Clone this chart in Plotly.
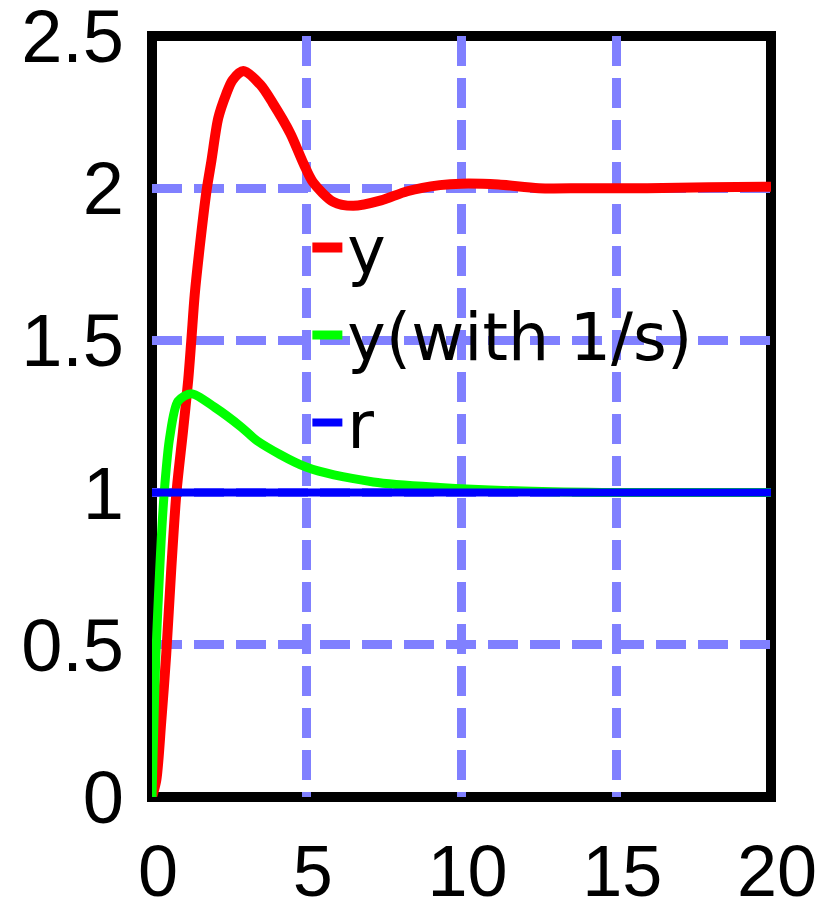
import plotly.graph_objects as go

# y (red)
t_y = [0, 0.14, 0.30, 0.46, 0.62, 0.79, 1.0, 1.17, 1.27, 1.38, 1.54, 1.76, 1.92,
       2.14, 2.40, 2.60, 2.95, 3.5, 3.9, 4.47, 4.9, 5.2, 5.86, 6.5, 7.4, 8.25, 9.3,
       10.0, 11.2, 12.5, 14, 16, 18, 20]
v_y = [0, 0.056, 0.25, 0.47, 0.745, 1.0, 1.2, 1.37, 1.50, 1.65, 1.805, 1.99, 2.09,
       2.23, 2.31, 2.355, 2.385, 2.34, 2.28, 2.18, 2.08, 2.02, 1.955, 1.942, 1.96, 1.99, 2.01,
       2.015, 2.012, 2.0, 2.0, 2.0, 2.003, 2.005]

# y(with 1/s) (green)
t_g = [0, 0.05, 0.12, 0.19, 0.30, 0.41, 0.57, 0.84, 1.27, 2.03, 2.89, 3.4, 5.0, 7.15, 9.3, 12, 15, 20]
v_g = [0, 0.2, 0.45, 0.62, 0.85, 1.02, 1.18, 1.30, 1.325, 1.28, 1.215, 1.17, 1.083, 1.035, 1.017, 1.005, 1.0, 1.0]

# r (blue)
t_r = [0, 20]
v_r = [1, 1]

x_ticks = [0, 5, 10, 15, 20]
y_ticks = [0, 0.5, 1, 1.5, 2, 2.5]
y_ticktext = ["0", "0.5", "1", "1.5", "2", "2.5"]

fig = go.Figure()
fig.add_trace(go.Scatter(x=t_y, y=v_y, mode="lines", name="y",
                         line=dict(color="#ff0000", width=10, shape="spline", smoothing=0.8)))
fig.add_trace(go.Scatter(x=t_g, y=v_g, mode="lines", name="y(with 1/s)",
                         line=dict(color="#00ff00", width=9, shape="spline", smoothing=0.8)))
fig.add_trace(go.Scatter(x=t_r, y=v_r, mode="lines", name="r",
                         line=dict(color="#0000ff", width=8)))

# page body has an 8px default margin, so the figure is 8px smaller than the window
fig.update_layout(
    width=819, height=904,
    margin=dict(l=144, r=56, t=28, b=115),
    paper_bgcolor="white", plot_bgcolor="white",
    showlegend=True,
    legend=dict(x=0.251, y=0.786, xanchor="left", yanchor="top",
                bgcolor="rgba(255,255,255,0)", borderwidth=0,
                font=dict(family="DejaVu Sans", size=65, color="black"),
                itemwidth=30),
    xaxis=dict(range=[0, 20], tickvals=x_ticks, showgrid=True, gridcolor="#8080ff",
               gridwidth=9, griddash="30px,12px", zeroline=False, showline=False,
               tickfont=dict(family="Liberation Sans", size=72, color="black"),
               ticks="", ticklabelstandoff=26, ticklabelshift=6,
               automargin=False, ticklabeloverflow="allow"),
    yaxis=dict(range=[0, 2.5], tickvals=y_ticks, ticktext=y_ticktext, showgrid=True,
               gridcolor="#8080ff", gridwidth=9, griddash="30px,12px", zeroline=False,
               showline=False, tickfont=dict(family="Liberation Sans", size=74, color="black"),
               ticks="", ticklabelstandoff=27,
               automargin=False, ticklabeloverflow="allow"),
    shapes=[
        # legend background patch (hides grid behind legend, below the curves)
        dict(type="rect", xref="paper", yref="paper", x0=0.215, x1=0.93, y0=0.456, y1=0.771,
             line=dict(width=0), fillcolor="white", layer="between"),
        # plot frame
        dict(type="rect", xref="paper", yref="paper", x0=0, x1=1, y0=0, y1=1,
             line=dict(color="black", width=10), layer="between"),
    ],
)
fig.write_html("out.html")
